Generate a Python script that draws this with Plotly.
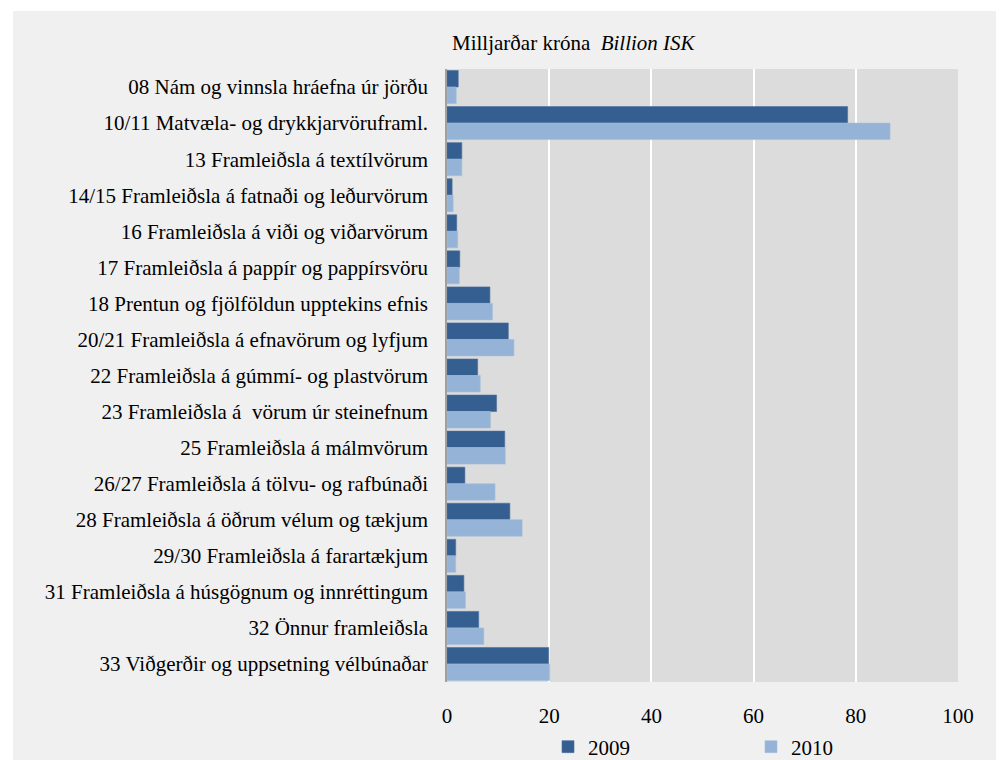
import plotly.graph_objects as go

categories = [
    "08 Nám og vinnsla hráefna úr jörðu",
    "10/11 Matvæla- og drykkjarvöruframl.",
    "13 Framleiðsla á textílvörum",
    "14/15 Framleiðsla á fatnaði og leðurvörum",
    "16 Framleiðsla á viði og viðarvörum",
    "17 Framleiðsla á pappír og pappírsvöru",
    "18 Prentun og fjölföldun upptekins efnis",
    "20/21 Framleiðsla á efnavörum og lyfjum",
    "22 Framleiðsla á gúmmí- og plastvörum",
    "23 Framleiðsla á\u00a0 vörum úr steinefnum",
    "25 Framleiðsla á málmvörum",
    "26/27 Framleiðsla á tölvu- og rafbúnaði",
    "28 Framleiðsla á öðrum vélum og tækjum",
    "29/30 Framleiðsla á farartækjum",
    "31 Framleiðsla á húsgögnum og innréttingum",
    "32 Önnur framleiðsla",
    "33 Viðgerðir og uppsetning vélbúnaðar",
]
values_2009 = [2.2, 78.4, 2.9, 1.0, 1.9, 2.5, 8.4, 12.0, 6.0, 9.7, 11.3, 3.5, 12.3, 1.7, 3.3, 6.2, 19.9]
values_2010 = [1.8, 86.7, 2.9, 1.2, 2.1, 2.4, 8.9, 13.1, 6.5, 8.5, 11.4, 9.4, 14.7, 1.7, 3.6, 7.2, 20.1]
x_ticks = [0, 20, 40, 60, 80, 100]

FONT = "'Liberation Serif', 'Times New Roman', Times, serif"
C2009 = "#365f91"
C2010 = "#95b3d7"

fig = go.Figure()
fig.add_trace(go.Bar(
    y=categories, x=values_2009, name="2009", orientation="h",
    marker=dict(color=C2009, line=dict(color="#4a70a0", width=0.6)),
))
fig.add_trace(go.Bar(
    y=categories, x=values_2010, name="2010", orientation="h",
    marker=dict(color=C2010, line=dict(color="#a5bfdd", width=0.6)),
))

L, R, T, B = 447, 44, 69, 78
W, H = 1002, 760
pw = W - L - R
ph = H - T - B

def px_x(v):
    return (v - L) / pw

def px_y(v):
    return (H - B - v) / ph

fig.update_layout(
    width=W, height=H, autosize=False,
    margin=dict(l=L, r=R, t=T, b=B, pad=0, autoexpand=False),
    paper_bgcolor="white",
    plot_bgcolor="#dcdcdc",
    barmode="group",
    bargap=0.085,
    bargroupgap=0,
    font=dict(family=FONT, size=21, color="#000000"),
    title=dict(
        text="Milljarðar króna&nbsp; <i>Billion ISK</i>",
        xref="paper", x=px_x(452), xanchor="left",
        yref="container", y=1 - 43 / H, yanchor="middle",
        font=dict(family=FONT, size=21, color="#000000"),
    ),
    xaxis=dict(
        range=[0, 100], tickvals=x_ticks,
        showgrid=True, gridcolor="white", gridwidth=2,
        zeroline=False, showline=False,
        ticks="outside", ticklen=15, tickcolor="rgba(0,0,0,0)",
        tickfont=dict(family=FONT, size=21, color="#000000"),
        fixedrange=True,
    ),
    yaxis=dict(
        autorange="reversed",
        showgrid=False, zeroline=False,
        showline=True, linecolor="#a0a0a0", linewidth=1.5,
        ticks="outside", ticklen=13, tickcolor="rgba(0,0,0,0)",
        tickfont=dict(family=FONT, size=21, color="#000000"),
        fixedrange=True,
    ),
    legend=dict(
        orientation="h",
        xref="container", x=548 / W, xanchor="left",
        yref="container", y=1 - 747 / H, yanchor="middle",
        bgcolor="rgba(0,0,0,0)",
        entrywidth=158, entrywidthmode="pixels",
        font=dict(family=FONT, size=21, color="#000000"),
        traceorder="normal",
    ),
    shapes=[
        dict(type="rect", xref="paper", yref="paper", layer="below",
             x0=px_x(13), x1=px_x(996), y0=px_y(765), y1=px_y(11),
             fillcolor="#f0f0f0", line=dict(width=0)),
        dict(type="rect", xref="paper", yref="paper", layer="below",
             x0=0, x1=1, y0=0, y1=1,
             fillcolor="#dcdcdc", line=dict(width=0)),
    ],
)

fig.write_html(
    "out.html",
    config={"responsive": False, "displayModeBar": False},
    post_script="document.body.style.margin='0';",
)
